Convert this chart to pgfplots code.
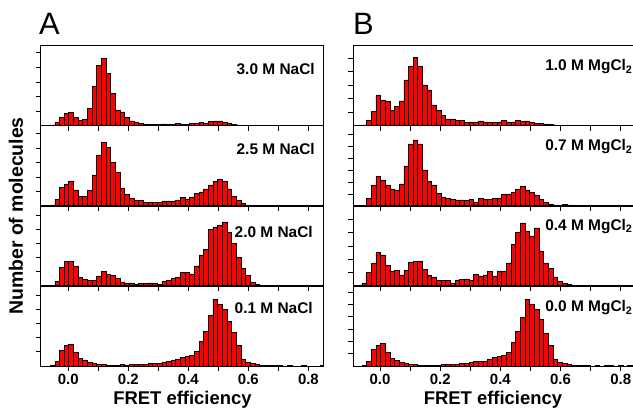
\documentclass[border=0pt]{standalone}
\usepackage{fontspec}
\setmainfont{Liberation Sans}
\usepackage{pgfplots}
\usepackage{pgfplotstable}
\pgfplotsset{compat=1.18}
\definecolor{barred}{RGB}{255,0,0}

\pgfplotstableread{
x a1 a2 a3 a4
-0.0682 0.7 0.3 0 0
-0.0527 1 1 0.3 0.3
-0.0372 3.7 6.7 4.3 4.7
-0.0217 8.7 18.3 18.3 16
-0.0062 12.3 21.7 24.3 20.3
0.0093 13.3 25 24.3 22
0.0248 8.3 16 20 13.7
0.0403 5.3 9.3 8.7 7.7
0.0558 6.3 9.7 7 5.3
0.0713 17.3 15.7 5.3 3.3
0.0868 39.7 31 5.3 2.7
0.1023 60.3 51 10 2
0.1178 67.7 64 14.3 1.3
0.1333 52.3 58.3 11.7 1
0.1488 32.7 43.3 10.7 1
0.1643 16 33.3 7.7 1
0.1798 14 17.7 4 1.3
0.1953 8.3 11.7 3 1
0.2108 5 7.7 3 1.3
0.2263 4 5.7 1.7 1.3
0.2418 2.7 5.7 2.3 2
0.2573 2 3.7 2.3 2
0.2728 1.3 4 3 2.3
0.2883 1.7 3.7 3 2.7
0.3038 1.3 3.7 1.3 3
0.3193 2 5 4.3 4
0.3348 1.3 5 5.7 4.7
0.3503 1.7 5 7.7 5.3
0.3658 2.3 5.7 8.3 6.7
0.3813 1.7 8.5 13.3 8.3
0.3968 1.7 7 13.3 9.7
0.4123 2.3 9 12 11
0.4278 2.7 12.5 20 15
0.4433 3.7 14 31 25
0.4588 2.7 17 36.3 35
0.4743 4.7 21 56.7 51
0.4898 5 24.5 59 67
0.5053 5 26.3 60.3 62
0.5208 3.3 25 64 57
0.5363 2.3 17 53.3 45
0.5518 1.3 9.5 42.3 34
0.5673 1 5.7 28.3 21
0.5828 0.7 3 17.7 6.7
0.5983 0.5 0.7 10.7 4
0.6138 0.5 0.3 4 2.3
0.6293 0.3 0.3 1.7 1.3
0.6448 0.3 0.3 1 0.7
0.6603 0.5 0.3 0.7 0.5
0.6758 0.3 0 0.5 0.3
0.6913 0.3 0.3 0.3 0.3
0.7068 0.5 0.3 0.3 0.3
0.7223 0.3 0 0 0
0.7378 0.3 0.3 0.3 0.3
0.7533 0.3 0 0 0
0.7688 0.3 0 0.3 0
0.7843 0.7 0.3 0 0.3
0.7998 0.3 0 0 0
0.8153 0.3 0 0.3 0
0.8308 0.7 0.3 0 0
0.8463 0.3 0 0.3 0.3
}\tabA

\pgfplotstableread{
x b1 b2 b3 b4
-0.0682 0.3 0.3 0.7 0
-0.0527 1 0.7 3 0.3
-0.0372 5.3 7.7 13.3 4.7
-0.0217 14.3 20.3 22.3 16.3
-0.0062 31 29.3 33.3 20.7
0.0093 26 26 31 22.7
0.0248 24.3 21 20.7 13.7
0.0403 15.3 17 14.3 7.7
0.0558 19.3 16 15.7 5.3
0.0713 25 22 11 3.3
0.0868 46 40 15.7 2.7
0.1023 59.3 62 23.3 2
0.1178 68.7 66 24.3 1.3
0.1333 59.3 62 25 1
0.1488 41 36 16.7 1
0.1643 36 24.3 10.3 1
0.1798 21 21 9 1
0.1953 15.3 12.7 5.7 1
0.2108 10.7 8.7 5.7 1.3
0.2263 7 7.7 5.7 1.7
0.2418 7 6.7 3 1.7
0.2573 5.3 6 6 2
0.2728 5.3 6 6.3 2.3
0.2883 3.3 5.3 7 3
0.3038 4 6.7 5.7 4
0.3193 4 3.3 11.7 4.3
0.3348 5 7.3 10 5
0.3503 4 6.7 11 5
0.3658 3.3 6.7 14.3 6.7
0.3813 3.3 7.3 10 8.7
0.3968 4 7.3 15 9.7
0.4123 5.3 12 15 11
0.4278 4 12 23 14
0.4433 4 13.7 41.7 24
0.4588 5.3 16.7 53.3 35
0.4743 4.7 20 63 49
0.4898 5 16 55 67
0.5053 3.3 13.7 50 62
0.5208 2.3 11 58 57
0.5363 2.3 6.5 35 47
0.5518 2 3.5 23 33
0.5673 1.3 2 17.7 21
0.5828 1 1 9 6.5
0.5983 0.5 0.5 4.3 4
0.6138 0.3 1.3 2.3 2.3
0.6293 0.5 1 1.5 1.3
0.6448 0.3 0.3 1 0.7
0.6603 0.7 0.3 0.7 0.5
0.6758 0.3 0 0.5 0.3
0.6913 0.3 0.3 0.3 0.3
0.7068 0 0.3 0.3 0
0.7223 0.3 0 0 0.3
0.7378 0.3 0.3 0.3 0
0.7533 0 0 0 0.3
0.7688 0.3 0 0 0.3
0.7843 0.5 0.3 0.3 0
0.7998 0.3 0 0 0.3
0.8153 0.5 0.3 0 0
0.8308 0.3 0 0.3 0.3
0.8463 0 0 0 0
}\tabB

\tikzset{lab/.style={font=\bfseries\fontsize{15.5}{15.5}\selectfont, inner sep=0pt}}
\pgfplotsset{
  panel/.style={
    scale only axis, height=80bp, ymin=0, ymax=80,
    axis on top,
    axis line style={black, line width=1bp},
    tick align=outside,
    xtick={0,0.2,0.4,0.6,0.8},
    minor xtick={0.1,0.3,0.5,0.7},
    xticklabels={}, yticklabels={},
    xtick pos=bottom, ytick pos=left,
    major tick length=5bp, minor tick length=5bp,
    tick style={black, line width=0.8bp},
    /pgf/number format/assume math mode=true,
  },
  bars/.style={ybar, bar width=0.0155, bar shift=0pt, fill=barred, draw=black, line width=0.55bp},
  Acol/.style={panel, width=283bp, xmin=-0.091, xmax=0.852},
  Bcol/.style={panel, width=280.5bp, xmin=-0.0897, xmax=0.8425},
  bottomlab/.style={xticklabels={0.0,0.2,0.4,0.6,0.8},
    xticklabel style={font=\bfseries\fontsize{15}{15}\selectfont}},
}

\begin{document}
\begin{tikzpicture}
\useasboundingbox (0,0) rectangle (633bp,415bp);

% ---------- column A ----------
\begin{axis}[Acol, at={(41bp,289bp)}, anchor=south west, ytick={14.6,29.2,43.8,58.4,73.5}]
\addplot[bars] table[x=x,y=a1] {\tabA};
\node[lab, anchor=east] at (rel axis cs:0.968,0.71) {3.0 M NaCl};
\end{axis}
\begin{axis}[Acol, at={(41bp,209bp)}, anchor=south west, ytick={14.5,29,43.5,58,72.5}]
\addplot[bars] table[x=x,y=a2] {\tabA};
\node[lab, anchor=east] at (rel axis cs:0.968,0.71) {2.5 M NaCl};
\end{axis}
\begin{axis}[Acol, at={(41bp,129bp)}, anchor=south west, ytick={14.1,28.2,42.3,56.4,70.5}]
\addplot[bars] table[x=x,y=a3] {\tabA};
\node[lab, anchor=east] at (rel axis cs:0.961,0.675) {2.0 M NaCl};
\end{axis}
\begin{axis}[Acol, bottomlab, at={(41bp,49bp)}, anchor=south west, ytick={14.2,28.4,42.6,56.8,71}]
\addplot[bars] table[x=x,y=a4] {\tabA};
\node[lab, anchor=east] at (rel axis cs:0.961,0.73) {0.1 M NaCl};
\end{axis}

% ---------- column B ----------
\begin{axis}[Bcol, at={(353bp,289bp)}, anchor=south west, ytick={13.6,27.2,40.8,54.4,68}]
\addplot[bars] table[x=x,y=b1] {\tabB};
\node[lab, anchor=west] at (rel axis cs:0.685,0.74) {1.0 M MgCl\textsubscript{2}};
\end{axis}
\begin{axis}[Bcol, at={(353bp,209bp)}, anchor=south west, ytick={12,24,36,48,60,72}]
\addplot[bars] table[x=x,y=b2] {\tabB};
\node[lab, anchor=west] at (rel axis cs:0.685,0.74) {0.7 M MgCl\textsubscript{2}};
\end{axis}
\begin{axis}[Bcol, at={(353bp,129bp)}, anchor=south west, ytick={13.3,26.6,39.9,53.2,66.5}]
\addplot[bars] table[x=x,y=b3] {\tabB};
\node[lab, anchor=west] at (rel axis cs:0.685,0.745) {0.4 M MgCl\textsubscript{2}};
\end{axis}
\begin{axis}[Bcol, bottomlab, at={(353bp,49bp)}, anchor=south west, ytick={12.3,24.6,36.9,49.2,61.5,73.8}]
\addplot[bars] table[x=x,y=b4] {\tabB};
\node[lab, anchor=west] at (rel axis cs:0.685,0.73) {0.0 M MgCl\textsubscript{2}};
\end{axis}

% ---------- labels ----------
\node[rotate=90, font=\bfseries\fontsize{19.5}{19.5}\selectfont] at (16bp,199bp) {Number of molecules};
\node[font=\bfseries\fontsize{18.5}{18.5}\selectfont] at (182.5bp,15bp) {FRET efficiency};
\node[font=\bfseries\fontsize{18.5}{18.5}\selectfont] at (493bp,15bp) {FRET efficiency};
\node[anchor=base west, inner sep=0pt, font=\fontsize{31}{31}\selectfont] at (39bp,380bp) {A};
\node[anchor=base west, inner sep=0pt, font=\fontsize{31}{31}\selectfont] at (353bp,380bp) {B};
\end{tikzpicture}
\end{document}
